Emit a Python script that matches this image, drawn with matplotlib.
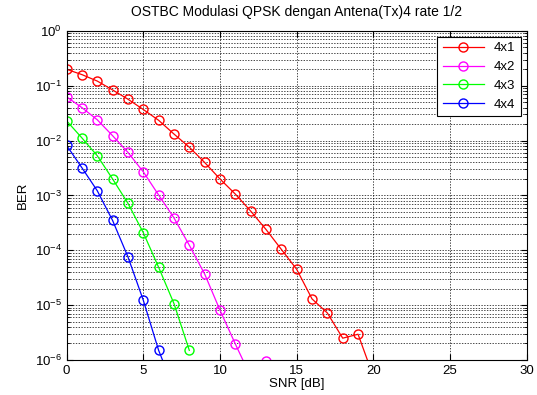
import numpy as np
import matplotlib
matplotlib.use("Agg")
import matplotlib.pyplot as plt
from matplotlib.ticker import LogLocator, FixedLocator

plt.rcParams['font.family'] = ['Liberation Sans', 'DejaVu Sans']

# BER
snr1 = [0, 1, 2, 3, 4, 5, 6, 7, 8, 9, 10, 11, 12, 13, 14, 15, 16, 17, 18, 19, 20]
ber1 = [0.2, 0.16, 0.122, 0.084, 0.057, 0.037, 0.0235, 0.0132, 0.0076, 0.004,
        0.002, 1.06e-3, 5.2e-4, 2.4e-4, 1.04e-4, 4.5e-5, 1.3e-5, 7.2e-6,
        2.5e-6, 2.95e-6, 5e-7]
snr2 = [0, 1, 2, 3, 4, 5, 6, 7, 8, 9, 10, 11, 12, 13]
ber2 = [0.063, 0.04, 0.024, 0.0123, 0.0061, 0.0027, 1.02e-3, 3.9e-4, 1.24e-4,
        3.7e-5, 8.1e-6, 1.96e-6, 5e-7, 9.5e-7]
snr3 = [0, 1, 2, 3, 4, 5, 6, 7, 8]
ber3 = [0.023, 0.0112, 0.0053, 0.002, 7.2e-4, 2.1e-4, 4.9e-5, 1.07e-5, 1.5e-6]
snr4 = [0, 1, 2, 3, 4, 5, 6, 7]
ber4 = [0.0082, 0.0032, 1.22e-3, 3.5e-4, 7.6e-5, 1.23e-5, 1.5e-6, 3e-7]

labels = ['4x1', '4x2', '4x3', '4x4']
colors = ['#ff0000', '#ff00ff', '#00ff00', '#0000ff']

fig = plt.figure(figsize=(5.37, 3.95), dpi=100)
ax = fig.add_axes([0.124, 0.0886, 0.857, 0.833])

for x, y, lab, c in zip([snr1, snr2, snr3, snr4], [ber1, ber2, ber3, ber4], labels, colors):
    ax.semilogy(x, y, '-o', color=c, mfc='none', mec=c, ms=6.5, lw=0.9, label=lab)

ax.set_xlim(0, 30)
ax.set_ylim(1e-6, 1)
ax.xaxis.set_major_locator(FixedLocator([0, 5, 10, 15, 20, 25, 30]))
ax.yaxis.set_major_locator(LogLocator(base=10, numticks=10))
ax.yaxis.set_minor_locator(LogLocator(base=10, subs=np.arange(2, 10), numticks=10))

gl = dict(color='k', linestyle=(0, (2, 2)), linewidth=0.5)
ax.grid(True, which='major', **gl)
ax.grid(True, which='minor', axis='y', **gl)

ax.tick_params(which='both', direction='in', top=True, right=True, labelsize=9.5)
ax.tick_params(which='major', length=4)
ax.tick_params(which='minor', length=2)
for s in ax.spines.values():
    s.set_linewidth(0.8)

ax.set_title('OSTBC Modulasi QPSK dengan Antena(Tx)4 rate 1/2', fontsize=10, pad=11)
ax.set_xlabel('SNR [dB]', fontsize=9.5, labelpad=1)
ax.set_ylabel('BER', fontsize=9.5, labelpad=4)

leg = ax.legend(loc='upper right', fontsize=9.5, fancybox=False, framealpha=1,
                edgecolor='k', borderaxespad=0.45, handlelength=3.1)
leg.get_frame().set_linewidth(0.8)

fig.savefig('out.png', dpi=100)
